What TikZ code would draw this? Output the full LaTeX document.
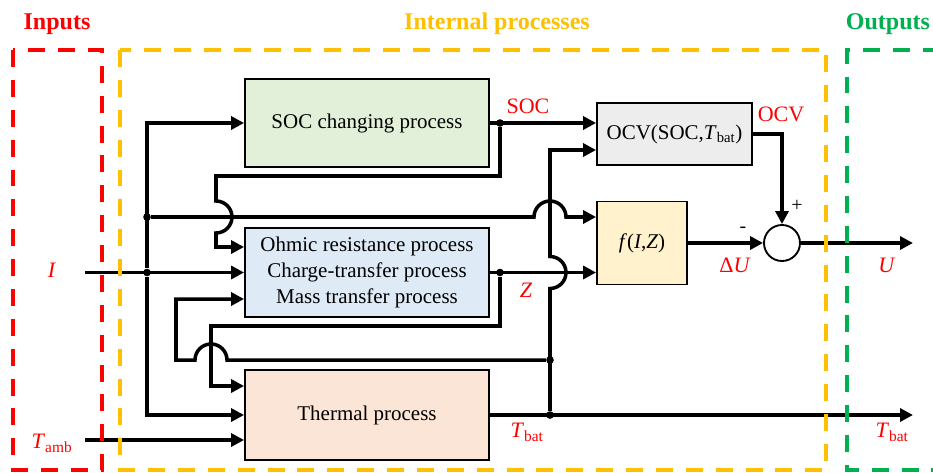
\documentclass[tikz,border=0pt]{standalone}
\usepackage{fontspec}
\setmainfont{Liberation Serif}
\usepackage{xcolor}
\usetikzlibrary{positioning, arrows.meta, calc}
\definecolor{RedA}{HTML}{FF0000}
\definecolor{GoldA}{HTML}{FFC000}
\definecolor{GreenA}{HTML}{00B050}
\definecolor{GreenB}{HTML}{E2F0D9}
\definecolor{BlueB}{HTML}{DEEBF7}
\definecolor{PinkB}{HTML}{FBE5D6}
\definecolor{GrayB}{HTML}{EDEDED}
\definecolor{SandB}{HTML}{FFF2CC}
\tikzset{
  box/.style={draw, line width=1.6pt, align=center, inner sep=2pt,
              font=\fontsize{17.9}{22}\selectfont},
  wire/.style={line width=3pt},
  arr/.style={-{Triangle[length=11pt,width=11pt]}, line width=3pt},
  dot/.style={circle, fill, inner sep=0pt, minimum size=6.5pt},
  lbl/.style={text=RedA, font=\fontsize{18.8}{22}\selectfont, inner sep=0pt},
  sign/.style={font=\fontsize{17}{20}\selectfont, inner sep=0pt},
  ttl/.style={font=\fontsize{20.5}{24}\selectfont\bfseries, inner sep=0pt},
  zone/.style={line width=3.4pt, dash pattern=on 14.5pt off 11pt},
}
\newcommand{\Tbat}{\textit{T}\textsubscript{bat}}

\begin{document}
\begin{tikzpicture}
  \useasboundingbox (0,0) rectangle (27.99,-14.16);

  % titles
  \node[ttl, text=RedA]   (tin)  at (1.71,-0.72)  {Inputs};
  \node[ttl, text=GoldA]  (tint) at (14.91,-0.72) {Internal processes};
  \node[ttl, text=GreenA] (tout) at (26.64,-0.72) {Outputs};

  % blocks
  \node[box, fill=GreenB, minimum width=7.32cm, minimum height=2.64cm] (soc) at (11.01,-3.69) {SOC changing process};
  \node[box, fill=BlueB, minimum width=7.32cm, minimum height=2.67cm] (ohm) at (11.01,-8.175)
       {Ohmic resistance process\\Charge-transfer process\\Mass transfer process};
  \node[box, fill=PinkB, minimum width=7.32cm, minimum height=2.7cm] (thm) at (11.01,-12.45) {Thermal process};
  \node[box, fill=GrayB, minimum width=4.65cm, minimum height=1.86cm] (ocv) at (20.235,-4.02) {OCV(SOC,\Tbat)};
  \node[box, fill=SandB, minimum width=2.7cm, minimum height=2.49cm] (fiz) at (19.26,-7.29)
       {\textit{f}(\textit{I},\textit{Z})};
  \node[draw, circle, line width=1.6pt, minimum size=1.08cm, inner sep=0pt] (sum) at (23.46,-7.29) {};

  % junctions and free ends
  \node[dot] (jI)  at (4.41,-8.175) {};
  \node[dot] (jI2) at (4.41,-6.51)  {};
  \node[dot] (jS)  at (15.0,-3.69)  {};
  \node[dot] (jZ)  at (15.0,-8.175) {};
  \node[dot] (jT)  at (16.5,-12.45) {};
  \node[dot] (jT2) at (16.5,-10.8)  {};
  \coordinate (inI)  at (2.55,-8.175);
  \coordinate (inT)  at (2.55,-13.2);
  \coordinate (outU) at (27.39,-7.29);
  \coordinate (outT) at (27.39,-12.45);

  % inputs
  \draw[arr] (inI) -- (ohm.west);
  \draw[arr] (jI) |- (soc.west);
  \draw[arr] (jI) |- (thm.west);
  \draw[arr] (inT) -- (inT -| thm.west);
  \draw[arr] (jI2) -- (16.02,-6.51) arc[start angle=180, end angle=0, radius=0.48] -- (fiz.west |- jI2);

  % SOC
  \draw[arr] (soc.east) -- (ocv.west |- soc.east);
  \draw[arr] (jS) |- (6.48,-5.28) -- (6.48,-6.03) arc[start angle=90, end angle=-90, radius=0.48]
       |- ($(ohm.west)+(0,0.765)$);

  % Z
  \draw[arr] (ohm.east) -- (fiz.west |- ohm.east);
  \draw[arr] (jZ) |- (6.33,-9.78) |- ($(thm.west)+(0,0.87)$);

  % Tbat
  \draw[arr] (thm.east) -- (outT);
  \draw[arr] (jT) -- (16.5,-8.655) arc[start angle=-90, end angle=90, radius=0.48]
       |- ($(ocv.west)+(0,-0.48)$);
  \draw[arr] (jT2) -- (6.81,-10.8) arc[start angle=0, end angle=180, radius=0.48]
       -| (5.28,-8.97) -- ($(ohm.west)+(0,-0.795)$);

  % voltage
  \draw[arr] (ocv.east) -| (sum.north);
  \draw[arr] (fiz.east) -- (sum.west);
  \draw[arr] (sum.east) -- (outU);

  % labels
  \node[lbl] (lI)   at (1.56,-8.1)   {\textit{I}};
  \node[lbl] (lTa)  at (1.56,-13.29) {\textit{T}\textsubscript{amb}};
  \node[lbl] (lSOC) at (15.84,-3.18) {SOC};
  \node[lbl] (lZ)   at (15.78,-8.7)  {\textit{Z}};
  \node[lbl] (lTb)  at (15.81,-12.96) {\Tbat};
  \node[lbl] (lOCV) at (23.43,-3.42) {OCV};
  \node[lbl] (lDU)  at (22.05,-7.95) {Δ\textit{U}};
  \node[lbl] (lU)   at (26.61,-7.95) {\textit{U}};
  \node[lbl] (lTo)  at (26.76,-12.96) {\Tbat};
  \node[sign] (lp)  at (23.91,-6.18) {+};
  \node[sign] (lm)  at (22.29,-6.9)  {-};

  % dashed zones
  \draw[zone, draw=RedA] (0.39,-1.5) rectangle (3.06,-14.1);
  \draw[zone, draw=GoldA] (3.6,-1.5) rectangle (24.78,-14.1);
  \draw[zone, draw=GreenA] (28.2,-1.5) -| (25.41,-14.1) -- (28.2,-14.1);
\end{tikzpicture}
\end{document}
